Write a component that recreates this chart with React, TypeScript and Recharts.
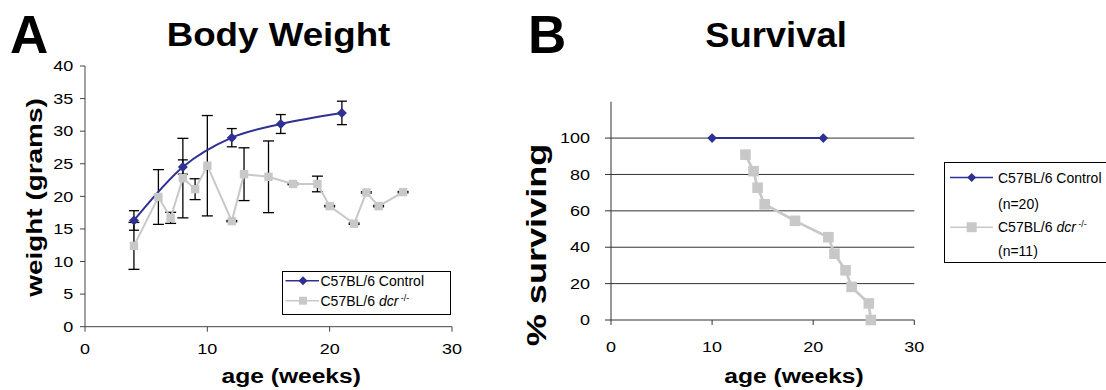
import React from 'react';
import { LineChart, Line, XAxis, YAxis, ReferenceLine, ErrorBar, Legend } from 'recharts';

const FONT = '"Liberation Sans", Arial, Helvetica, sans-serif';
const BLUE = '#2E3192';
const GRAY = '#C8C8C8';
const AXIS = '#444444';

// body weight (panel A)
const controlAges = [4, 8, 12, 16, 21];
const controlWeights = [16.3, 24.5, 29.0, 31.1, 32.8];
const controlErrors = [1.5, 1.1, 1.4, 1.45, 1.8];

const dcrAges = [4, 6, 7, 8, 9, 10, 12, 13, 15, 17, 19, 20, 22, 23, 24, 26];
const dcrWeights = [12.4, 19.9, 16.7, 22.8, 21.1, 24.7, 16.2, 23.4, 23.0, 21.9, 21.9, 18.5, 15.8, 20.6, 18.5, 20.65];
const dcrErrors = [3.6, 4.2, 0.85, 6.1, 1.6, 7.7, 0.1, 4.05, 5.5, 0.1, 1.2, 0.1, 0.1, 0.1, 0.1, 0.1];

const weightTicksY = [0, 5, 10, 15, 20, 25, 30, 35, 40];
const ageTicks = [0, 10, 20, 30];

// survival (panel B)
const survControlAges = [10, 21];
const survControlPct = [100, 100];
const survDcrAges = [13.3, 14.1, 14.5, 15.2, 18.2, 21.5, 22.1, 23.2, 23.8, 25.5, 25.7];
const survDcrPct = [90.9, 81.8, 72.7, 63.6, 54.5, 45.5, 36.4, 27.3, 18.2, 9.1, 0];
const survTicksY = [0, 20, 40, 60, 80, 100];
const survGridY = [20, 40, 60, 80, 100];

const controlWeightRows = controlAges.map((age, i) => ({ age, weight: controlWeights[i], err: controlErrors[i] }));
const dcrWeightRows = dcrAges.map((age, i) => ({ age, weight: dcrWeights[i], err: dcrErrors[i] }));
const survControlRows = survControlAges.map((age, i) => ({ age, pct: survControlPct[i] }));
const survDcrRows = survDcrAges.map((age, i) => ({ age, pct: survDcrPct[i] }));

function Diamond({ cx, cy, half, fill }: any) {
  return <path d={`M${cx},${cy - half}L${cx + half},${cy}L${cx},${cy + half}L${cx - half},${cy}Z`} fill={fill} />;
}

function Square({ cx, cy, half, fill }: any) {
  return <rect x={cx - half} y={cy - half} width={half * 2} height={half * 2} fill={fill} />;
}

function YTick(props: any) {
  const { x, y, payload } = props;
  return (
    <text transform={`translate(${x},${y}) scale(1.2,1)`} textAnchor="end" dy="0.35em" fontSize={15} fontFamily={FONT} fill="#000">
      {payload.value}
    </text>
  );
}

function XTick(props: any) {
  const { x, y, payload } = props;
  return (
    <text transform={`translate(${x},${y}) scale(1.2,1)`} textAnchor="middle" dy="0.71em" fontSize={15} fontFamily={FONT} fill="#000">
      {payload.value}
    </text>
  );
}

function WeightLegend() {
  return (
    <svg width={170} height={44} style={{ display: 'block' }}>
      <rect x={0.5} y={0.5} width={168} height={43} fill="#fff" stroke="#000" />
      <line x1={3.5} x2={37} y1={9.7} y2={9.7} stroke={BLUE} strokeWidth={1.5} />
      <Diamond cx={21} cy={9.7} half={4.5} fill={BLUE} />
      <text x={38.5} y={14.7} fontSize={14} fontFamily={FONT} fill="#000">C57BL/6 Control</text>
      <line x1={3.5} x2={37} y1={29.7} y2={29.7} stroke={GRAY} strokeWidth={1.5} />
      <Square cx={21} cy={29.7} half={4} fill={GRAY} />
      <text x={38.5} y={34.7} fontSize={14} fontFamily={FONT} fill="#000">
        C57BL/6 <tspan fontStyle="italic">dcr</tspan>
        <tspan fontSize={9} dy={-5}> -/-</tspan>
      </text>
    </svg>
  );
}

function SurvivalLegend() {
  return (
    <svg width={180} height={101} style={{ display: 'block' }}>
      <rect x={0.5} y={0.5} width={190} height={100} fill="#fff" stroke="#000" />
      <line x1={6} x2={49} y1={15.5} y2={15.5} stroke={BLUE} strokeWidth={1.5} />
      <Diamond cx={27.7} cy={15.5} half={4.5} fill={BLUE} />
      <text x={54} y={20.5} fontSize={14} fontFamily={FONT} fill="#000">C57BL/6 Control</text>
      <text x={54} y={46.5} fontSize={14} fontFamily={FONT} fill="#000">(n=20)</text>
      <line x1={6} x2={49} y1={65.2} y2={65.2} stroke={GRAY} strokeWidth={1.5} />
      <Square cx={27.7} cy={65.2} half={5} fill={GRAY} />
      <text x={54} y={70.2} fontSize={14} fontFamily={FONT} fill="#000">
        C57BL/6 <tspan fontStyle="italic">dcr</tspan>
        <tspan fontSize={9} dy={-5}> -/-</tspan>
      </text>
      <text x={54} y={93.5} fontSize={14} fontFamily={FONT} fill="#000">(n=11)</text>
    </svg>
  );
}

function BodyWeightChart() {
  return (
    <LineChart width={480} height={390} margin={{ top: 66, right: 28, bottom: 33.3, left: 0 }}>
      <XAxis
        type="number"
        dataKey="age"
        domain={[0, 30]}
        ticks={ageTicks}
        height={30}
        stroke={AXIS}
        tickSize={5}
        tickMargin={11.6}
        tick={<XTick />}
      />
      <YAxis
        type="number"
        domain={[0, 40]}
        ticks={weightTicksY}
        width={85}
        stroke={AXIS}
        tickSize={5}
        tickMargin={6.7}
        tick={<YTick />}
      />
      <Line
        data={dcrWeightRows}
        dataKey="weight"
        stroke={GRAY}
        strokeWidth={2}
        isAnimationActive={false}
        activeDot={false}
        dot={(p: any) => <Square key={`g-${p.index}`} cx={p.cx} cy={p.cy} half={4.2} fill={GRAY} />}
      >
        <ErrorBar dataKey="err" direction="y" width={5.5} stroke="#000" strokeWidth={1.3} />
      </Line>
      <Line
        data={controlWeightRows}
        dataKey="weight"
        type="monotone"
        stroke={BLUE}
        strokeWidth={2}
        isAnimationActive={false}
        activeDot={false}
        dot={(p: any) => <Diamond key={`b-${p.index}`} cx={p.cx} cy={p.cy} half={5} fill={BLUE} />}
      >
        <ErrorBar dataKey="err" direction="y" width={5} stroke="#000" strokeWidth={1.3} />
      </Line>
      <Legend
        layout="vertical"
        align="center"
        verticalAlign="middle"
        content={() => <WeightLegend />}
        wrapperStyle={{ left: 281.5, top: 271, width: 170, height: 44 }}
      />
    </LineChart>
  );
}

function SurvivalChart() {
  return (
    <LineChart width={586} height={390} margin={{ top: 101.7, right: 191.7, bottom: 40, left: 0 }}>
      {survGridY.map((v) => (
        <ReferenceLine key={v} y={v} stroke="#333" strokeWidth={1} />
      ))}
      <XAxis
        type="number"
        dataKey="age"
        domain={[0, 30]}
        ticks={ageTicks}
        height={30}
        stroke="#333"
        tickSize={5}
        tickMargin={16.7}
        tick={<XTick />}
      />
      <YAxis
        type="number"
        domain={[0, 120]}
        ticks={survTicksY}
        width={91}
        stroke="#333"
        tickSize={6}
        tickMargin={15}
        tick={<YTick />}
      />
      <Line
        data={survDcrRows}
        dataKey="pct"
        stroke={GRAY}
        strokeWidth={2.7}
        isAnimationActive={false}
        activeDot={false}
        dot={(p: any) => <Square key={`sg-${p.index}`} cx={p.cx} cy={p.cy} half={5.3} fill={GRAY} />}
      />
      <Line
        data={survControlRows}
        dataKey="pct"
        stroke={BLUE}
        strokeWidth={2}
        isAnimationActive={false}
        activeDot={false}
        dot={(p: any) => <Diamond key={`sb-${p.index}`} cx={p.cx} cy={p.cy} half={4.8} fill={BLUE} />}
      />
      <Legend
        layout="vertical"
        align="center"
        verticalAlign="middle"
        content={() => <SurvivalLegend />}
        wrapperStyle={{ left: 424, top: 161.5, width: 180, height: 101 }}
      />
    </LineChart>
  );
}

export default function App() {
  return (
    <div style={{ position: 'absolute', left: 0, top: 0, width: 1106, height: 390, overflow: 'hidden', background: '#fff', fontFamily: FONT }}>
      <div style={{ position: 'absolute', left: 0, top: 0 }}>
        <BodyWeightChart />
      </div>
      <div style={{ position: 'absolute', left: 520, top: 0 }}>
        <SurvivalChart />
      </div>
      <svg width={1106} height={390} style={{ position: 'absolute', left: 0, top: 0, pointerEvents: 'none' }} fontFamily={FONT} fill="#000">
        <text x={10} y={53.3} fontSize={53} fontWeight="bold">A</text>
        <text transform="translate(278.5,45.7) scale(1.08,1)" textAnchor="middle" fontSize={34} fontWeight="bold">Body Weight</text>
        <text transform="translate(42.3,197.5) rotate(-90) scale(1.27,1)" textAnchor="middle" fontSize={22} fontWeight="bold">weight (grams)</text>
        <text transform="translate(291.2,383.3) scale(1.23,1)" textAnchor="middle" fontSize={20} fontWeight="bold">age (weeks)</text>

        <text x={528} y={53.3} fontSize={53} fontWeight="bold">B</text>
        <text transform="translate(776,46.7) scale(1.04,1)" textAnchor="middle" fontSize={35} fontWeight="bold">Survival</text>
        <text transform="translate(546,245) rotate(-90) scale(1.29,1)" textAnchor="middle" fontSize={28} fontWeight="bold">% surviving</text>
        <text transform="translate(794,383.3) scale(1.23,1)" textAnchor="middle" fontSize={20} fontWeight="bold">age (weeks)</text>
      </svg>
    </div>
  );
}
